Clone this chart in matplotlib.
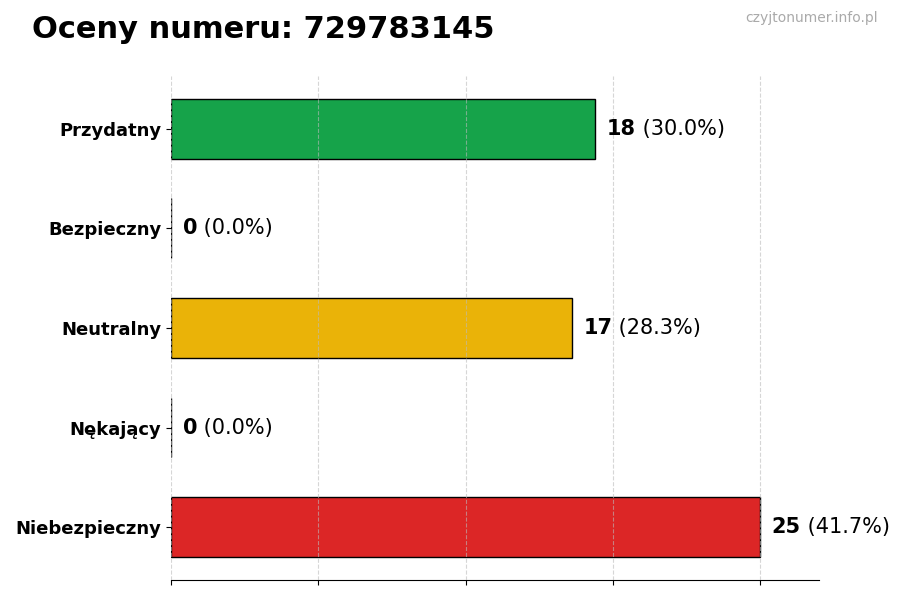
import matplotlib
matplotlib.use("Agg")
import matplotlib.pyplot as plt
import numpy as np

categories = ["Przydatny", "Bezpieczny", "Neutralny", "Nękający", "Niebezpieczny"]
counts = [18, 0, 17, 0, 25]
colors = ["#16a34a", "#22c55e", "#eab308", "#f97316", "#dc2626"]
title = "Oceny numeru: 729783145"
watermark = "czyjtonumer.info.pl"

total = sum(counts)
vmax = max(counts)

fig = plt.figure(figsize=(9, 6), dpi=100)
ax = fig.add_axes([0.19, 0.0335, 0.72, 0.84])

y = np.arange(len(categories))
ax.barh(y, counts, height=0.6, color=colors, edgecolor="black", linewidth=1, zorder=2)
ax.invert_yaxis()
ax.set_xlim(0, vmax * 1.1)
ax.set_xticks(np.linspace(0, vmax, 5))
ax.set_xticklabels([])
ax.set_yticks(y)
ax.set_yticklabels(categories, fontsize=13, fontweight="bold")
ax.set_axisbelow(False)
ax.grid(axis="x", linestyle="--", color="#bbbbbb", alpha=0.6, linewidth=0.8, zorder=3)
for s in ["top", "right", "left"]:
    ax.spines[s].set_visible(False)

for yi, c in zip(y, counts):
    pct = c / total * 100 if total else 0
    t1 = ax.text(c + vmax * 0.02, yi, f"{c}", fontsize=15, fontweight="bold",
                 va="center", ha="left", zorder=4)
    ax.annotate(f" ({pct:.1f}%)", xy=(1, 0), xycoords=t1, va="bottom", ha="left",
                fontsize=15, zorder=4)

fig.text(0.035, 0.95, title, fontsize=22, fontweight="bold", va="center", ha="left")
fig.text(0.975, 0.97, watermark, fontsize=10, color="#aaaaaa", va="center", ha="right")

fig.savefig("out.png", dpi=100)
